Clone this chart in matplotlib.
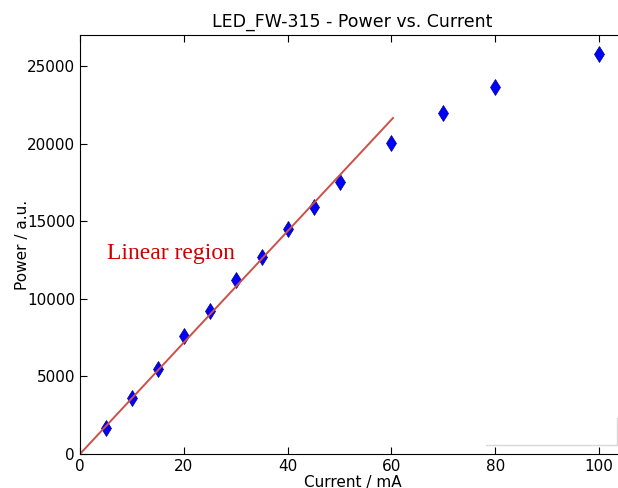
import matplotlib
matplotlib.use('Agg')
import matplotlib.pyplot as plt

# Measured data
current = [5, 10, 15, 20, 25, 30, 35, 40, 45, 50, 60, 70, 80, 100]
power = [1700, 3600, 5500, 7600, 9200, 11200, 12700, 14500, 15900, 17500,
         20050, 22000, 23650, 25800]

# Linear fit of the low-current region
fit_x = [0, 60.3]
fit_y = [0, 21650]

fig = plt.figure(figsize=(6.18, 4.88), dpi=100)
# axes runs slightly past the right edge of the figure (cropped original)
ax = fig.add_axes([0.1294, 0.0697, 0.882, 0.8586])

ax.plot(current, power, 'd', color='blue', markeredgecolor='#000080',
        markeredgewidth=0.5, markersize=8)
ax.plot(fit_x, fit_y, '-', color='#cc5048', linewidth=1.4)

ax.text(5.2, 12900, 'Linear region', color='#cc0000', fontsize=17,
        family='Liberation Serif', va='center', ha='left')

# remains of an empty legend frame in the corner
ax.plot([0.745, 0.985, 0.985], [0.0215, 0.0215, 0.086], color='#d8d8d8',
        linewidth=1, transform=ax.transAxes)

ax.set_xlim(0, 105)
ax.set_ylim(0, 27000)
ax.set_xticks([0, 20, 40, 60, 80, 100])
ax.set_yticks([0, 5000, 10000, 15000, 20000, 25000])
ax.tick_params(direction='in', top=True, right=True, labelsize=11, length=5)

ax.set_title('LED_FW-315 - Power vs. Current', fontsize=12.5)
ax.set_xlabel('Current / mA', fontsize=11, labelpad=1)
ax.set_ylabel('Power / a.u.', fontsize=11, labelpad=-2)

fig.savefig('out.png', dpi=100)
